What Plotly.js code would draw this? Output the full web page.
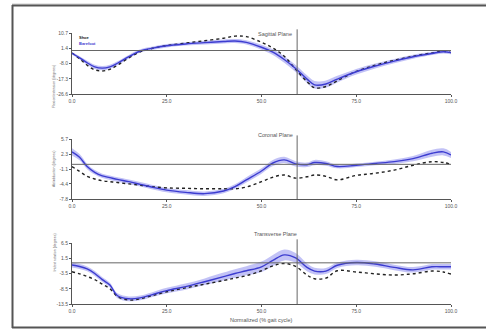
<!DOCTYPE html>
<html><head><meta charset="utf-8">
<script src="https://cdn.plot.ly/plotly-3.0.1.min.js"></script>
<style>html,body{margin:0;padding:0;background:#fff;}#chart{width:486px;height:330px;}</style>
</head><body><div id="chart"></div>
<script>
// ---- data ----
const gaitPct = [0,2,4,6,8,10,12,15,18,21,25,30,35,40,43,46,50,53,56,59,62,64,67,70,75,80,85,90,95,98,100];

const sagBlue = [-1.7,-4.5,-7.5,-10.0,-10.8,-10.0,-7.8,-3.8,-0.3,1.3,2.9,4.0,4.8,5.5,5.8,5.0,2.0,-1.0,-5.5,-11.0,-17.5,-21.0,-20.5,-17.5,-13.0,-9.5,-6.5,-3.8,-1.8,-0.8,-1.3];
const sagSd   = [0.8,1.0,1.2,1.3,1.3,1.3,1.2,1.1,1.0,1.0,1.0,1.0,1.1,1.2,1.2,1.3,1.5,1.7,2.0,2.2,2.3,2.3,2.2,2.0,1.7,1.5,1.3,1.2,1.0,1.0,1.0];
const sagDash = [-1.5,-5.0,-9.0,-11.8,-12.5,-11.5,-9.0,-4.5,-0.8,1.2,3.0,4.5,6.0,7.5,8.8,8.5,5.0,1.5,-3.5,-11.5,-19.0,-22.8,-22.0,-18.5,-12.8,-9.0,-6.0,-3.5,-1.5,-0.5,-1.3];

const corBlue = [2.8,1.6,-0.5,-1.8,-2.6,-3.0,-3.4,-3.9,-4.5,-5.1,-5.8,-6.3,-6.6,-6.0,-5.0,-3.5,-1.5,0.3,1.0,0.1,-0.1,0.4,0.2,-0.5,-0.2,0.2,0.6,1.3,2.5,2.8,2.1];
const corSd   = [0.8,0.7,0.6,0.5,0.5,0.5,0.5,0.5,0.5,0.5,0.5,0.5,0.5,0.5,0.5,0.6,0.6,0.7,0.7,0.6,0.5,0.6,0.5,0.4,0.4,0.4,0.5,0.6,0.8,0.8,0.7];
const corDash = [-0.5,-1.6,-2.7,-3.3,-3.7,-3.9,-4.1,-4.4,-4.7,-5.0,-5.3,-5.4,-5.5,-5.5,-5.5,-5.1,-3.9,-2.9,-2.4,-3.1,-2.8,-2.4,-2.7,-3.5,-2.5,-2.0,-1.3,-0.2,0.6,0.4,0.0];

const traBlue = [-0.7,-1.2,-2.0,-3.5,-5.5,-7.3,-10.8,-11.8,-11.5,-10.5,-9.1,-7.8,-6.2,-4.5,-3.5,-2.6,-1.3,0.8,2.6,1.6,-1.5,-2.7,-2.7,-0.8,0.1,-0.4,-1.5,-2.3,-1.3,-1.3,-1.3];
const traSd   = [0.8,0.8,0.8,0.8,0.8,0.8,0.8,0.8,0.8,0.8,0.9,1.0,1.1,1.3,1.4,1.5,1.7,1.8,1.8,1.6,1.3,1.1,1.0,0.9,0.9,0.9,0.9,0.9,0.9,0.9,0.9];
const traDash = [-2.9,-3.6,-4.5,-5.5,-7.0,-8.5,-11.0,-12.2,-11.8,-10.8,-9.5,-8.2,-7.0,-5.8,-5.0,-4.2,-2.6,-1.0,-0.2,-1.2,-4.0,-5.2,-5.0,-2.6,-3.0,-3.6,-4.0,-3.6,-2.7,-3.0,-3.7];

const xTicks = [0,25,50,75,100];
const xTickText = ["0.0","25.0","50.0","75.0","100.0"];
const sagTicks = [10.7,1.4,-8.0,-17.3,-26.6];
const corTicks = [5.7,2.3,-1.1,-4.4,-7.8];
const traTicks = [6.5,1.5,-3.5,-8.5,-13.5];
const panelTitles = ["Sagittal Plane","Coronal Plane","Transverse Plane"];
const yTitles = ["Flexion/extension (degrees)","Ab/adduction (degrees)","Int/ext rotation (degrees)"];
const legendNames = ["Shoe","Barefoot"];
const toeOff = 59.4;

// ---- build ----
const W = 486, H = 330;
const px = v => v / W, py = v => 1 - v / H;
const panels = [
  {blue: sagBlue, sd: sagSd, dash: sagDash, ticks: sagTicks, top: 33, bot: 94},
  {blue: corBlue, sd: corSd, dash: corDash, ticks: corTicks, top: 139, bot: 199},
  {blue: traBlue, sd: traSd, dash: traDash, ticks: traTicks, top: 243, bot: 304}
];
const blueCol = "#3c3cd0", bandCol = "rgba(120,120,235,0.45)";
const traces = [], shapes = [], annotations = [];
const layout = {
  width: W, height: H, margin: {l:0, r:0, t:0, b:0},
  paper_bgcolor: "#fff", plot_bgcolor: "rgba(0,0,0,0)",
  showlegend: false, font: {family: "Liberation Sans, Arial, sans-serif", size: 5, color: "#555"}
};
panels.forEach((p, i) => {
  const sfx = i === 0 ? "" : String(i + 1);
  const xa = "x" + sfx, ya = "y" + sfx;
  const lo = p.blue.map((v, k) => v - p.sd[k]);
  const hi = p.blue.map((v, k) => v + p.sd[k]);
  traces.push({x: gaitPct, y: lo, xaxis: xa, yaxis: ya, mode: "lines", line: {width: 0, shape: "spline"}, hoverinfo: "skip"});
  traces.push({x: gaitPct, y: hi, xaxis: xa, yaxis: ya, mode: "lines", fill: "tonexty", fillcolor: bandCol, line: {width: 0, shape: "spline"}, hoverinfo: "skip"});
  traces.push({x: gaitPct, y: p.dash, xaxis: xa, yaxis: ya, mode: "lines", line: {color: "#222", width: 1.4, dash: "3px,3px", shape: "spline"}});
  traces.push({x: gaitPct, y: p.blue, xaxis: xa, yaxis: ya, mode: "lines", line: {color: blueCol, width: 1.4, shape: "spline"}});
  const ymin = p.ticks[p.ticks.length - 1], ymax = p.ticks[0];
  layout["xaxis" + sfx] = {
    domain: [px(72), px(451)], anchor: ya, range: [0, 100],
    tickvals: xTicks, ticktext: xTickText, ticks: "outside", ticklen: 2, tickcolor: "#555",
    showline: true, linecolor: "#555", linewidth: 1, showgrid: false, zeroline: false,
    tickfont: {size: 5, color: "#555"}
  };
  layout["yaxis" + sfx] = {
    domain: [py(p.bot), py(p.top)], anchor: xa, range: [ymin, ymax],
    tickvals: p.ticks, ticktext: p.ticks.map(v => v.toFixed(1)), ticks: "outside", ticklen: 2, tickcolor: "#555",
    showline: true, linecolor: "#555", linewidth: 1, showgrid: false, zeroline: false,
    tickfont: {size: 5, color: "#555"}
  };
  shapes.push({type: "line", xref: xa + " domain", yref: ya, x0: 0, x1: 1, y0: 0, y1: 0, line: {color: "#666", width: 1}});
  shapes.push({type: "line", xref: xa, yref: ya + " domain", x0: toeOff, x1: toeOff, y0: 0, y1: 1.06, line: {color: "#666", width: 1}});
  annotations.push({text: panelTitles[i], xref: "paper", yref: "paper", x: px(275), y: py(p.top - 4), showarrow: false, font: {size: 5.5, color: "#555"}});
  annotations.push({text: yTitles[i], xref: "paper", yref: "paper", x: px(50), y: py((p.top + p.bot) / 2), textangle: -90, showarrow: false, font: {size: 3.5, color: "#666"}});
});
annotations.push({text: "<b>" + legendNames[0] + "</b>", xref: "paper", yref: "paper", x: px(77), y: py(33), xanchor: "left", showarrow: false, font: {size: 4, color: "#222"}});
annotations.push({text: "<b>" + legendNames[1] + "</b>", xref: "paper", yref: "paper", x: px(77), y: py(39.5), xanchor: "left", showarrow: false, font: {size: 4, color: blueCol}});
annotations.push({text: "Normalized (% gait cycle)", xref: "paper", yref: "paper", x: px(261), y: py(318), yanchor: "top", yshift: 3, showarrow: false, font: {size: 5.5, color: "#555"}});
// frame
shapes.push({type: "line", xref: "paper", yref: "paper", x0: px(12), x1: 1.01, y0: py(4), y1: py(4), line: {color: "#ccc", width: 1}});
shapes.push({type: "line", xref: "paper", yref: "paper", x0: px(12), x1: 1.01, y0: py(5.5), y1: py(5.5), line: {color: "#555", width: 2}});
shapes.push({type: "line", xref: "paper", yref: "paper", x0: px(12.5), x1: px(12.5), y0: py(5), y1: py(328), line: {color: "#555", width: 2}});
shapes.push({type: "line", xref: "paper", yref: "paper", x0: px(12), x1: 1.01, y0: py(327.5), y1: py(327.5), line: {color: "#555", width: 2}});
layout.shapes = shapes;
layout.annotations = annotations;
Plotly.newPlot("chart", traces, layout, {displayModeBar: false, staticPlot: true});
</script></body></html>
